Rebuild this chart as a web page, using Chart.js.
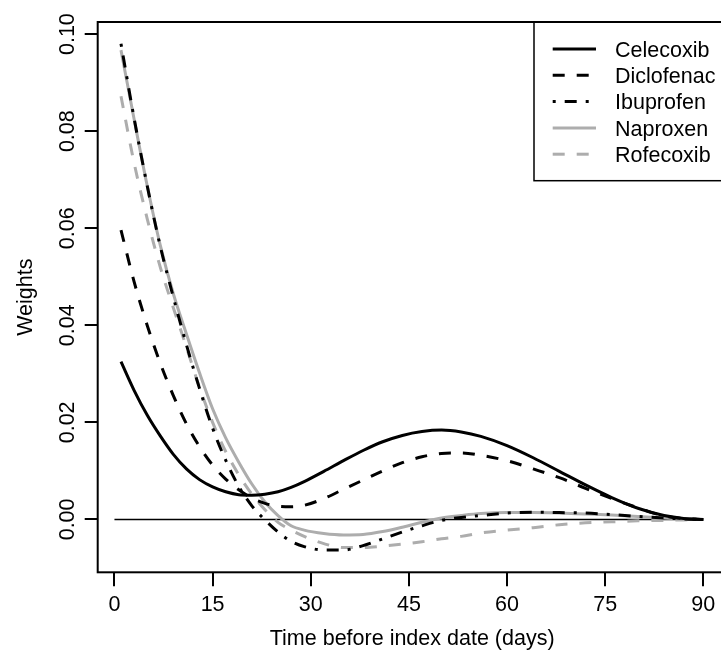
<!DOCTYPE html>
<html>
<head>
<meta charset="utf-8">
<script src="https://cdn.jsdelivr.net/npm/chart.js@4.4.1/dist/chart.umd.min.js"></script>
<style>
  html, body { margin: 0; padding: 0; background: #fff; overflow: hidden; }
  canvas { display: block; }
</style>
</head>
<body>
<canvas id="graficoPesos" width="740" height="650"></canvas>
<script>
// Dados (dias antes da data índice x pesos)
const dias = [1, 3, 5, 7, 9, 11, 13, 15, 17, 19, 21, 23, 25, 27, 29, 32, 35, 38, 41, 44, 47, 50, 53, 56, 60, 64, 68, 72, 76, 80, 84, 87, 90];

const celecoxib  = [0.0325, 0.0266, 0.0215, 0.0172, 0.0134, 0.0104, 0.0082, 0.0067, 0.0057, 0.0051, 0.0050, 0.0052, 0.0057, 0.0066, 0.0078, 0.0099, 0.0121, 0.0142, 0.0160, 0.0173, 0.0181, 0.0184, 0.0180, 0.0171, 0.0152, 0.0127, 0.0099, 0.0071, 0.0045, 0.0023, 0.0008, 0.0002, 0];
const diclofenac = [0.0596, 0.0490, 0.0400, 0.0322, 0.0255, 0.0197, 0.0150, 0.0112, 0.0083, 0.0061, 0.0044, 0.0033, 0.0027, 0.0026, 0.0029, 0.0043, 0.0062, 0.0081, 0.0100, 0.0117, 0.0129, 0.0136, 0.0137, 0.0132, 0.0121, 0.0104, 0.0086, 0.0064, 0.0043, 0.0024, 0.0007, 0.0002, 0];
const ibuprofen  = [0.0980, 0.0827, 0.0688, 0.0563, 0.0458, 0.0360, 0.0270, 0.0188, 0.0122, 0.0068, 0.0028, -0.0001, -0.0026, -0.0045, -0.0056, -0.0063, -0.0063, -0.0054, -0.0040, -0.0026, -0.0013, -0.0002, 0.0004, 0.0008, 0.0013, 0.0015, 0.0014, 0.0013, 0.0010, 0.0006, 0.0003, 0.0001, 0];
const naproxen   = [0.0967, 0.0825, 0.0688, 0.0565, 0.0465, 0.0382, 0.0302, 0.0228, 0.0168, 0.0118, 0.0073, 0.0036, 0.0008, -0.0013, -0.0022, -0.0029, -0.0032, -0.0031, -0.0025, -0.0016, -0.0006, 0.0003, 0.0008, 0.0012, 0.0014, 0.0014, 0.0013, 0.0011, 0.0009, 0.0006, 0.0003, 0.0001, 0];
const rofecoxib  = [0.0872, 0.0735, 0.0620, 0.0520, 0.0436, 0.0355, 0.0272, 0.0200, 0.0140, 0.0092, 0.0052, 0.0020, -0.0006, -0.0022, -0.0035, -0.0050, -0.0058, -0.0058, -0.0055, -0.0051, -0.0046, -0.0040, -0.0035, -0.0028, -0.0022, -0.0017, -0.0011, -0.0007, -0.0005, -0.0003, -0.0002, -0.0001, 0];

// Linha de referência em zero
const linhaZeroX = [0, 90];
const linhaZeroY = [0, 0];

// Ticks dos eixos
const ticksX = [0, 15, 30, 45, 60, 75, 90];
const ticksY = [0, 0.02, 0.04, 0.06, 0.08, 0.10];
const rotulosY = ['0.00', '0.02', '0.04', '0.06', '0.08', '0.10'];

const FONTE = '"Liberation Sans", Arial, Helvetica, sans-serif';
const TAM = 21.5;
const CINZA = '#adadad';

Chart.defaults.font.family = FONTE;
Chart.defaults.font.size = TAM;
Chart.defaults.color = '#000';

function pontos(xs, ys) {
    return xs.map((x, i) => ({ x: x, y: ys[i] }));
}

const series = [
    { label: 'Celecoxib',  data: pontos(dias, celecoxib),  borderColor: '#000', borderDash: [],              order: 1 },
    { label: 'Diclofenac', data: pontos(dias, diclofenac), borderColor: '#000', borderDash: [12, 12],        order: 2 },
    { label: 'Ibuprofen',  data: pontos(dias, ibuprofen),  borderColor: '#000', borderDash: [3, 9, 12, 9],   order: 3 },
    { label: 'Naproxen',   data: pontos(dias, naproxen),   borderColor: CINZA,  borderDash: [],              order: 6 },
    { label: 'Rofecoxib',  data: pontos(dias, rofecoxib),  borderColor: CINZA,  borderDash: [12, 12],        order: 5 }
];

const datasets = series.map(s => Object.assign({
    borderWidth: 3,
    pointRadius: 0,
    cubicInterpolationMode: 'monotone',
    fill: false
}, s));

datasets.push({
    label: 'zero',
    data: pontos(linhaZeroX, linhaZeroY),
    borderColor: '#000',
    borderWidth: 1.5,
    pointRadius: 0,
    tension: 0,
    order: 10
});

/* ------------------------------------------------------------------ */
/*     Plugin: moldura, rótulos do eixo Y girados e legenda em caixa   */
/* ------------------------------------------------------------------ */
const estiloR = {
    id: 'estiloR',
    afterDraw(chart) {
        const ctx = chart.ctx;
        const area = chart.chartArea;
        const escY = chart.scales.y;
        ctx.save();

        // moldura
        ctx.strokeStyle = '#000';
        ctx.lineWidth = 2;
        ctx.strokeRect(area.left, area.top, area.right - area.left, area.bottom - area.top);

        // rótulos do eixo Y (girados, como no R)
        ctx.fillStyle = '#000';
        ctx.font = TAM + 'px ' + FONTE;
        ticksY.forEach((v, i) => {
            ctx.save();
            ctx.translate(74, escY.getPixelForValue(v));
            ctx.rotate(-Math.PI / 2);
            ctx.textAlign = 'center';
            ctx.textBaseline = 'alphabetic';
            ctx.fillText(rotulosY[i], 0, 0);
            ctx.restore();
        });

        // legenda
        const caixaX = 534;
        ctx.lineWidth = 1.5;
        ctx.strokeRect(caixaX, area.top, area.right - caixaX, 158.7);
        series.forEach((s, i) => {
            const y = 49 + i * 26.3;
            ctx.save();
            ctx.strokeStyle = s.borderColor;
            ctx.lineWidth = 3;
            ctx.setLineDash(s.borderDash);
            ctx.beginPath();
            ctx.moveTo(552.7, y);
            ctx.lineTo(596, y);
            ctx.stroke();
            ctx.restore();
            ctx.textAlign = 'left';
            ctx.textBaseline = 'alphabetic';
            ctx.fillText(s.label, 615, y + 7.7);
        });

        ctx.restore();
    }
};

const ctx = document.getElementById('graficoPesos').getContext('2d');

new Chart(ctx, {
    type: 'line',
    data: { datasets: datasets },
    plugins: [estiloR],
    options: {
        responsive: false,
        animation: false,
        devicePixelRatio: 1,
        layout: { padding: { left: 0, top: 22, right: 13.4, bottom: 0 } },
        plugins: {
            legend: { display: false },
            tooltip: { enabled: false }
        },
        scales: {
            x: {
                type: 'linear',
                min: -2.56,
                max: 93.56,
                afterBuildTicks: s => { s.ticks = ticksX.map(v => ({ value: v })); },
                afterFit: s => { s.height = 77.7; },
                border: { display: false },
                grid: { drawOnChartArea: false, drawTicks: true, tickLength: 14, color: '#000', lineWidth: 2 },
                ticks: { padding: 6, color: '#000', maxRotation: 0, autoSkip: false, callback: v => String(v) },
                title: { display: true, text: 'Time before index date (days)', color: '#000', font: { size: TAM, lineHeight: 1 }, padding: 0 }
            },
            y: {
                type: 'linear',
                min: -0.0109,
                max: 0.1025,
                afterBuildTicks: s => { s.ticks = ticksY.map(v => ({ value: v })); },
                afterFit: s => { s.width = 97.7; },
                border: { display: false },
                grid: { drawOnChartArea: false, drawTicks: true, tickLength: 13, color: '#000', lineWidth: 2 },
                ticks: { display: false },
                title: { display: true, text: 'Weights', color: '#000', font: { size: TAM, lineHeight: 1 }, padding: { top: 15, bottom: 0 } }
            }
        }
    }
});
</script>
</body>
</html>
